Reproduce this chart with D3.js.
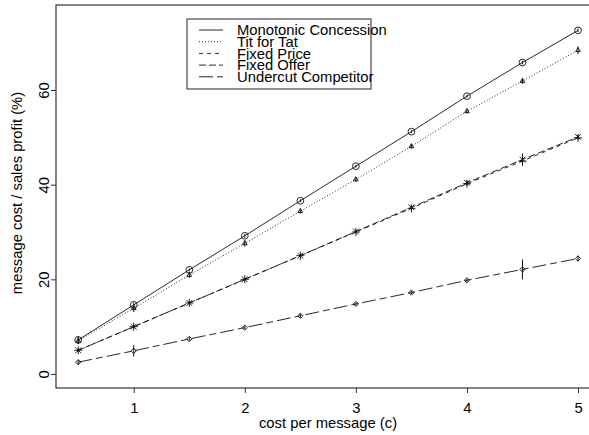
<!DOCTYPE html>
<html><head><meta charset="utf-8">
<script src="https://cdn.jsdelivr.net/npm/d3@7"></script>
<style>body{margin:0;background:#fff}svg{display:block}text{font-family:"Liberation Sans",Arial,sans-serif;fill:#000}</style>
</head><body>
<script>
const costs = [0.5,1,1.5,2,2.5,3,3.5,4,4.5,5];
const seriesNames = ["Monotonic Concession","Tit for Tat","Fixed Price","Fixed Offer","Undercut Competitor"];
const monotonic = [7.2,14.6,22.0,29.2,36.6,43.9,51.2,58.7,65.8,72.6];
const titForTat = [7.0,13.9,20.9,27.6,34.4,41.1,48.1,55.5,61.9,68.4];
const fixedPrice = [5.0,10.0,15.0,20.0,25.0,30.0,35.0,40.2,45.0,49.9];
const fixedOffer = [5.0,10.0,15.0,20.0,25.0,30.1,35.2,40.4,45.3,50.1];
const undercut = [2.5,4.9,7.4,9.8,12.3,14.8,17.2,19.8,22.1,24.4];
const monotonicErr = [0.8,0.5,0.3,0.4,0.3,0.3,0.3,0.3,0.4,0.4];
const titForTatErr = [0.7,0.8,0.6,0.7,0.5,0.5,0.5,0.5,0.6,0.8];
const fixedPriceErr = [0.3,0.3,0.3,0.3,0.3,0.3,0.3,0.4,0.8,0.4];
const fixedOfferErr = [0.3,0.3,0.3,0.3,0.3,0.3,0.3,0.4,1.3,0.4];
const undercutErr = [0.4,1.2,0.4,0.3,0.4,0.3,0.3,0.3,2.1,0.6];
const xTicks = [1,2,3,4,5];
const yTicks = [0,20,40,60];

const series = [
  {name:seriesNames[0], vals:monotonic, err:monotonicErr, dash:null, sym:d3.symbolCircle, size:36},
  {name:seriesNames[1], vals:titForTat, err:titForTatErr, dash:"1,2", sym:d3.symbolTriangle2, size:16},
  {name:seriesNames[2], vals:fixedPrice, err:fixedPriceErr, dash:"4,4", sym:d3.symbolPlus, size:24},
  {name:seriesNames[3], vals:fixedOffer, err:fixedOfferErr, dash:"7,3", sym:d3.symbolTimes, size:24},
  {name:seriesNames[4], vals:undercut, err:undercutErr, dash:"14,4,7,4", sym:d3.symbolDiamond2, size:18}
];

const W=589,H=435,FS=14.8;
const svg=d3.select("body").append("svg").attr("width",W).attr("height",H);
const x=d3.scaleLinear().domain([0.3,5.18]).range([56,598]);
const y=d3.scaleLinear().domain([-2.96,77.96]).range([388,5]);
const ink="#111";

// frame
svg.append("rect").attr("x",56).attr("y",5).attr("width",542).attr("height",383)
  .attr("fill","none").attr("stroke","#333").attr("stroke-width",1.2);

// axes
const xa=svg.append("g").attr("transform","translate(0,388)")
  .call(d3.axisBottom(x).tickValues(xTicks).tickFormat(d3.format("d")).tickSize(5).tickPadding(9));
xa.select(".domain").remove();
xa.selectAll("text").attr("font-size",FS).style("font-family","Liberation Sans, Arial, sans-serif");
xa.selectAll("line").attr("stroke","#333");

const ya=svg.append("g").attr("transform","translate(56,0)")
  .call(d3.axisLeft(y).tickValues(yTicks).tickSize(5).tickPadding(0).tickFormat(d3.format("d")));
ya.select(".domain").remove();
ya.selectAll("line").attr("stroke","#333");
ya.selectAll("text").attr("font-size",FS).style("font-family","Liberation Sans, Arial, sans-serif")
  .attr("x",0).attr("dy",0).attr("text-anchor","middle")
  .attr("transform",d=>`translate(-7,0) rotate(-90)`);

svg.append("text").attr("x",328).attr("y",428).attr("text-anchor","middle").attr("font-size",FS)
  .text("cost per message (c)");
svg.append("text").attr("transform","translate(22,193) rotate(-90)").attr("text-anchor","middle").attr("font-size",FS)
  .text("message cost / sales profit (%)");

const line=d3.line().x(d=>x(d[0])).y(d=>y(d[1]));
series.forEach(s=>{
  const pts=costs.map((c,i)=>[c,s.vals[i],s.err[i]]);
  svg.append("path").datum(pts).attr("d",line).attr("fill","none").attr("stroke",ink)
    .attr("stroke-width",0.9).attr("stroke-dasharray",s.dash);
  svg.append("g").selectAll("line").data(pts).join("line")
    .attr("x1",d=>x(d[0])).attr("x2",d=>x(d[0]))
    .attr("y1",d=>y(d[1]-d[2])).attr("y2",d=>y(d[1]+d[2]))
    .attr("stroke",ink).attr("stroke-width",1);
  svg.append("g").selectAll("path").data(pts).join("path")
    .attr("transform",d=>`translate(${x(d[0])},${y(d[1])})`)
    .attr("d",d3.symbol(s.sym,s.size)).attr("fill","none").attr("stroke",ink).attr("stroke-width",0.9);
});

// legend
const lg=svg.append("g");
lg.append("rect").attr("x",187).attr("y",19).attr("width",184).attr("height",70)
  .attr("fill","#fff").attr("stroke","#222").attr("stroke-width",1);
series.forEach((s,i)=>{
  const yy=30+i*11.7;
  lg.append("line").attr("x1",199).attr("x2",223).attr("y1",yy).attr("y2",yy)
    .attr("stroke",ink).attr("stroke-width",0.9).attr("stroke-dasharray",s.dash);
  lg.append("text").attr("x",237).attr("y",yy).attr("dy","0.36em").attr("font-size",FS).text(s.name);
});
</script>
</body></html>
